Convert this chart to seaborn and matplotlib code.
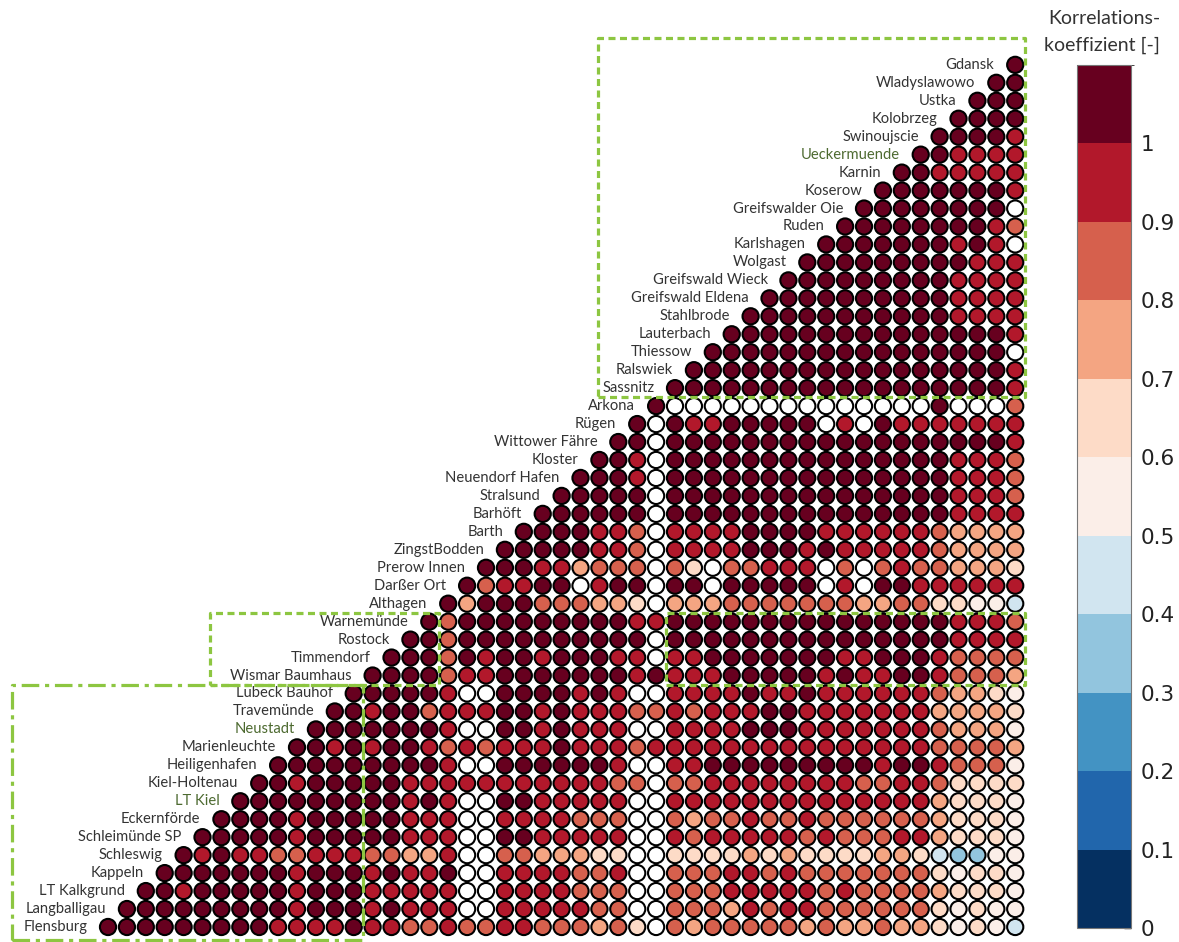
import numpy as np
import pandas as pd
import matplotlib
matplotlib.use("Agg")
import matplotlib.pyplot as plt
from matplotlib.colors import ListedColormap, BoundaryNorm
from matplotlib.cm import ScalarMappable
import seaborn as sns

# Gauge stations, ordered from the bottom row (west) to the top row (east)
stations = [
    "Flensburg", "Langballigau", "LT Kalkgrund", "Kappeln", "Schleswig",
    "Schleimünde SP", "Eckernförde", "LT Kiel", "Kiel-Holtenau", "Heiligenhafen",
    "Marienleuchte", "Neustadt", "Travemünde", "Lubeck Bauhof", "Wismar Baumhaus",
    "Timmendorf", "Rostock", "Warnemünde", "Althagen", "Darßer Ort",
    "Prerow Innen", "ZingstBodden", "Barth", "Barhöft", "Stralsund",
    "Neuendorf Hafen", "Kloster", "Wittower Fähre", "Rügen", "Arkona",
    "Sassnitz", "Ralswiek", "Thiessow", "Lauterbach", "Stahlbrode",
    "Greifswald Eldena", "Greifswald Wieck", "Wolgast", "Karlshagen", "Ruden",
    "Greifswalder Oie", "Koserow", "Karnin", "Ueckermuende", "Swinoujscie",
    "Kolobrzeg", "Ustka", "Wladyslawowo", "Gdansk",
]

# Stations whose names are set in green
highlighted = ["LT Kiel", "Neustadt", "Ueckermuende"]

# Colour classes of the correlation coefficient
class_bounds = [0.0, 0.1, 0.2, 0.3, 0.4, 0.5, 0.6, 0.7, 0.8, 0.9, 1.0, 1.1]
class_colors = ["#053061", "#2166ac", "#4393c3", "#92c5de", "#d1e5f0", "#fbeee8",
                "#fddbc7", "#f4a582", "#d6604d", "#b2182b", "#67001f"]
tick_values = [0.0, 0.1, 0.2, 0.3, 0.4, 0.5, 0.6, 0.7, 0.8, 0.9, 1.0]
tick_labels = ["0", "0.1", "0.2", "0.3", "0.4", "0.5", "0.6", "0.7", "0.8", "0.9", "1"]

N = None  # no common record
# Row k holds the coefficients of station k with stations k, k+1, ..., Gdansk
corr_rows = [
    [1, 1, 1, 1, 1, 1, 1, 1, 1, .95, .95, .95, .95, 1, .95, .95, .85,
     .85, .95, .85, .85, .95, .95, .85, .85, .85, .75, .85, .65, N, .85, .75, .85,
     .85, .85, .85, .85, .75, .85, .75, .75, .85, .75, .75, .65, .55, .65, .55, .45],
    [1, 1, 1, 1, 1, 1, 1, 1, 1, .95, 1, 1, 1, .95, 1, .95,
     .95, .95, N, N, .95, .95, .95, .95, .95, .85, .85, N, N, .85, .85, .85,
     .75, .95, .85, .95, .95, .85, .85, .85, .85, .85, .85, .65, .55, .65, .55, .55],
    [1, 1, .95, 1, 1, 1, 1, 1, .95, 1, 1, 1, .95, .95, .95,
     .95, .95, N, N, .95, .95, .95, .95, .85, .85, .85, N, N, .85, .85, .85,
     .95, .95, .95, .95, .95, .85, .95, .85, .85, .85, .85, .75, .65, .65, .65, .55],
    [1, 1, 1, 1, 1, 1, 1, .95, 1, 1, 1, .95, 1, .95,
     .95, 1, N, N, .95, .95, .95, .95, .85, .85, .95, N, N, .85, .85, .85,
     .95, .95, .85, .95, .85, .85, .85, .85, .85, .85, .85, .65, .55, .65, .65, .55],
    [1, .95, 1, .95, .95, .85, .85, .95, .95, .95, .85, .85, .75,
     .75, .95, N, N, .85, .85, .75, .75, .75, .65, .65, N, N, .65, .65, .65,
     .65, .75, .65, .75, .65, .65, .65, .65, .75, .75, .65, .45, .35, .35, .55, .55],
    [1, 1, 1, 1, 1, .95, 1, 1, 1, 1, 1, .95,
     .95, .95, N, N, 1, 1, .95, .95, .95, .95, .95, N, N, .95, .85, .95,
     .95, .95, .95, .95, .85, .95, .85, .85, .85, .95, .95, .75, .65, .65, .65, .55],
    [1, 1, 1, 1, .95, 1, 1, 1, 1, 1, .95,
     .95, .95, N, N, .95, .95, .95, .95, .85, .85, .85, N, N, .85, .75, .85,
     .85, .95, .85, .85, .95, .85, .85, .85, .85, .85, .85, .75, .65, .65, .65, .55],
    [1, 1, 1, 1, 1, 1, 1, 1, 1, .95,
     1, .95, N, N, 1, 1, .95, .95, .95, .95, .95, N, N, .95, .95, .95,
     .95, .95, .95, .95, .95, .95, .95, .95, .95, .95, .95, .75, .65, .65, .65, .55],
    [1, 1, .95, 1, 1, 1, 1, 1, .95,
     .95, .95, .95, .95, .95, .95, .95, .95, .95, .95, .85, .85, N, .85, .85, .95,
     .95, .95, .95, .95, .95, .95, .95, .85, .85, .95, .95, .85, .65, .65, .65, .65],
    [1, 1, 1, 1, 1, 1, 1, 1,
     1, .95, N, N, 1, 1, 1, 1, 1, 1, .95, N, N, .95, .95, 1,
     1, 1, 1, 1, 1, 1, 1, 1, .95, 1, 1, .95, .85, .85, .85, .55],
    [1, 1, .95, 1, .95, 1, 1,
     .95, .85, .95, .85, .95, .95, .95, 1, .95, .95, .95, .85, .95, .95, .95, .95,
     .95, .95, .95, .95, .95, .95, .95, .95, .95, .95, .95, .85, .85, .85, .85, .75],
    [1, 1, 1, 1, 1, 1,
     1, .95, N, N, 1, 1, .95, 1, .95, .95, .95, N, N, .95, .95, .95,
     .95, 1, 1, 1, .95, .95, .95, .95, .95, .95, .95, .85, .75, .75, .75, .55],
    [1, 1, .95, 1, 1,
     .85, .95, .95, .95, 1, 1, .95, 1, .95, .95, .95, .85, .85, .95, .85, .95,
     .95, .95, 1, 1, .95, .95, .95, .95, .95, .95, .95, .75, .75, .75, .75, .65],
    [1, 1, 1, 1,
     1, .95, N, N, 1, 1, 1, 1, .95, 1, .95, N, N, .95, .95, .95,
     .95, 1, .95, .95, 1, .95, .95, .95, .95, .95, .95, .85, .75, .75, .65, .55],
    [1, 1, 1,
     1, .85, .95, .95, 1, 1, 1, 1, 1, 1, 1, .95, 1, .95, .95, .95,
     1, 1, 1, 1, 1, .95, 1, .95, .95, 1, 1, .95, .85, .85, .85, .75],
    [1, 1,
     1, .85, 1, .95, 1, 1, .95, 1, 1, 1, .95, .95, N, .95, .95, 1,
     1, 1, 1, 1, 1, 1, .95, .95, 1, 1, 1, .95, .85, .85, .85, .85],
    [1,
     1, .85, 1, 1, 1, 1, 1, 1, 1, 1, 1, 1, N, 1, 1, 1,
     1, 1, 1, 1, 1, 1, 1, 1, 1, 1, 1, 1, .95, .95, .95, .95],
    [1, .85, 1, 1, 1, 1, 1, 1, 1, 1, 1, .95, .95, 1, 1, 1,
     1, 1, 1, 1, 1, 1, 1, 1, 1, 1, 1, 1, .95, .95, .95, .85],
    [1, .75, 1, 1, 1, .85, .85, .85, .75, .75, .65, N, .75, .75, .75,
     .85, .85, .85, .85, .85, .85, .85, .75, .75, .85, .85, .65, .65, .55, .55, .45],
    [1, .85, .95, .95, 1, 1, N, .95, 1, 1, N, 1, 1, N, 1,
     1, 1, 1, 1, N, .95, N, 1, 1, .95, .95, .95, .95, .95, .95],
    [1, 1, 1, .95, .95, .75, .85, .85, .85, N, .85, .65, N, .85,
     .85, .95, .95, .95, N, .85, N, .85, .95, .85, .85, .75, .75, .75, .65],
    [1, 1, 1, 1, 1, .95, .95, .85, N, .95, .95, .95, .95,
     1, 1, 1, .95, 1, .95, .95, .95, .95, .95, .85, .75, .75, .75, .75],
    [1, 1, 1, 1, .95, .95, .85, N, .95, .95, .95, .95,
     1, 1, 1, 1, .95, .95, .95, .95, .95, .95, .85, .75, .75, .75, .75],
    [1, 1, 1, 1, 1, 1, N, 1, 1, 1, 1,
     1, 1, 1, 1, 1, 1, 1, 1, 1, 1, 1, .95, .95, .95, .95],
    [1, 1, 1, 1, 1, N, 1, 1, 1, 1,
     1, 1, 1, 1, 1, 1, 1, 1, 1, 1, 1, .95, .95, .95, .85],
    [1, 1, 1, .95, N, 1, 1, 1, 1,
     1, 1, 1, 1, 1, 1, 1, 1, 1, 1, 1, .95, .95, .95, .85],
    [1, 1, .95, N, 1, 1, 1, 1,
     1, 1, 1, 1, 1, 1, 1, 1, 1, 1, 1, .95, .95, .95, .85],
    [1, 1, N, 1, 1, 1, 1,
     1, 1, 1, 1, 1, 1, 1, 1, 1, 1, 1, 1, 1, 1, .95],
    [1, N, 1, .95, .95, 1,
     1, 1, 1, 1, N, .95, N, 1, .95, .95, .95, .95, .95, .95, .95],
    [1, N, N, N, N, N, N, N, N, N, N, N, N, N, N, 1, N, N, N, .85],
    [1, 1, 1, 1, 1, 1, 1, 1, 1, 1, 1, 1, 1, 1, 1, 1, 1, 1, .95],
    [1, 1, 1, 1, 1, 1, 1, 1, 1, 1, 1, 1, 1, 1, 1, 1, 1, .95],
    [1, 1, 1, 1, 1, 1, 1, 1, 1, 1, 1, 1, 1, 1, 1, 1, N],
    [1, 1, 1, 1, 1, 1, 1, 1, 1, 1, 1, 1, 1, 1, 1, .95],
    [1, 1, 1, 1, 1, 1, 1, 1, 1, 1, 1, .95, .95, .95, .95],
    [1, 1, 1, 1, 1, 1, 1, 1, 1, 1, .95, .95, .95, .95],
    [1, 1, 1, 1, 1, 1, 1, 1, 1, .95, .95, .95, .95],
    [1, 1, 1, 1, 1, 1, 1, 1, 1, .95, .95, .95],
    [1, 1, 1, 1, 1, 1, 1, .95, 1, .95, N],
    [1, 1, 1, 1, 1, 1, 1, 1, .95, .85],
    [1, 1, 1, 1, 1, 1, 1, 1, N],
    [1, 1, 1, 1, 1, 1, 1, .95],
    [1, 1, .95, .95, .95, .95, .95],
    [1, 1, .95, .95, .95, .95],
    [1, 1, 1, 1, .95],
    [1, 1, 1, 1],
    [1, 1, 1],
    [1, 1],
    [1],
]

n = len(stations)
for k, row in enumerate(corr_rows):
    if len(row) != n - k:
        raise ValueError(f"row {stations[k]} has {len(row)} entries, expected {n - k}")

# Long table of the upper triangle: column j >= row k
records = []
for k, row in enumerate(corr_rows):
    for m, value in enumerate(row):
        j = k + m
        if value is None:
            cls = -1
        else:
            cls = int(np.searchsorted(class_bounds, value, side="right") - 1)
            cls = min(cls, len(class_colors) - 1)
        records.append({"spalte": j, "zeile": k, "r": value, "klasse": cls})
df = pd.DataFrame(records)

palette = {i: c for i, c in enumerate(class_colors)}
palette[-1] = "#ffffff"
hue_order = sorted(df["klasse"].unique())

sns.set_style("white")
plt.rcParams["font.family"] = ["Lato", "DejaVu Sans"]

fig = plt.figure(figsize=(11.79, 9.42), dpi=100)
ax = fig.add_axes([0.0836, 0.0064, 0.7855, 0.9343])

sns.scatterplot(data=df, x="spalte", y="zeile", hue="klasse", hue_order=hue_order,
                palette={h: palette[h] for h in hue_order}, marker="o", s=136,
                edgecolor="black", linewidth=1.5, legend=False, ax=ax, zorder=3)
for coll in ax.collections:
    coll.set_clip_on(False)

ax.set_xlim(-0.5, n - 0.5)
ax.set_ylim(-0.5, n - 0.5)
ax.axis("off")

# Station names to the left of each row's diagonal marker
for k, name in enumerate(stations):
    color = "#4d6a30" if name in highlighted else "#333333"
    ax.text(k - 1.1, k, name, ha="right", va="center", fontsize=10.6,
            color=color, zorder=4)

# Regional groupings
green = "#8dc641"
def frame(x0, x1, y0, y1, style):
    ax.plot([x0, x1, x1, x0, x0], [y0, y0, y1, y1, y0], color=green, lw=2.3,
            linestyle=style, clip_on=False, zorder=5, solid_capstyle="butt",
            dash_capstyle="butt")

short_dash = (0, (2.2, 1.4))
frame(25.9, 48.5, 29.5, 49.5, short_dash)
frame(5.4, 17.5, 13.5, 17.5, short_dash)
frame(29.5, 48.5, 13.5, 17.5, short_dash)
frame(-5.1, 13.5, -0.7, 13.5, (0, (5.5, 1.8, 1.3, 1.8)))

# Discrete colour bar
cmap = ListedColormap(class_colors)
norm = BoundaryNorm(class_bounds, cmap.N)
cax = fig.add_axes([0.9135, 0.0149, 0.0458, 0.9161])
cbar = fig.colorbar(ScalarMappable(norm=norm, cmap=cmap), cax=cax, ticks=tick_values)
cbar.ax.set_yticklabels(tick_labels)
cbar.ax.tick_params(direction="in", length=5, width=1, labelsize=15.5, pad=7,
                    colors="black", labelcolor="#222222")
for lab in cbar.ax.get_yticklabels():
    lab.set_fontfamily("DejaVu Sans")
cbar.outline.set_edgecolor("#777777")
cbar.outline.set_linewidth(0.8)

fig.text(1104 / 1179, 1 - 18 / 942, "Korrelations-", ha="center", va="center",
         fontsize=14, color="#333333")
fig.text(1102 / 1179, 1 - 45 / 942, "koeffizient [-]", ha="center", va="center",
         fontsize=14, color="#333333")

fig.savefig("out.png", dpi=100, facecolor="white")
